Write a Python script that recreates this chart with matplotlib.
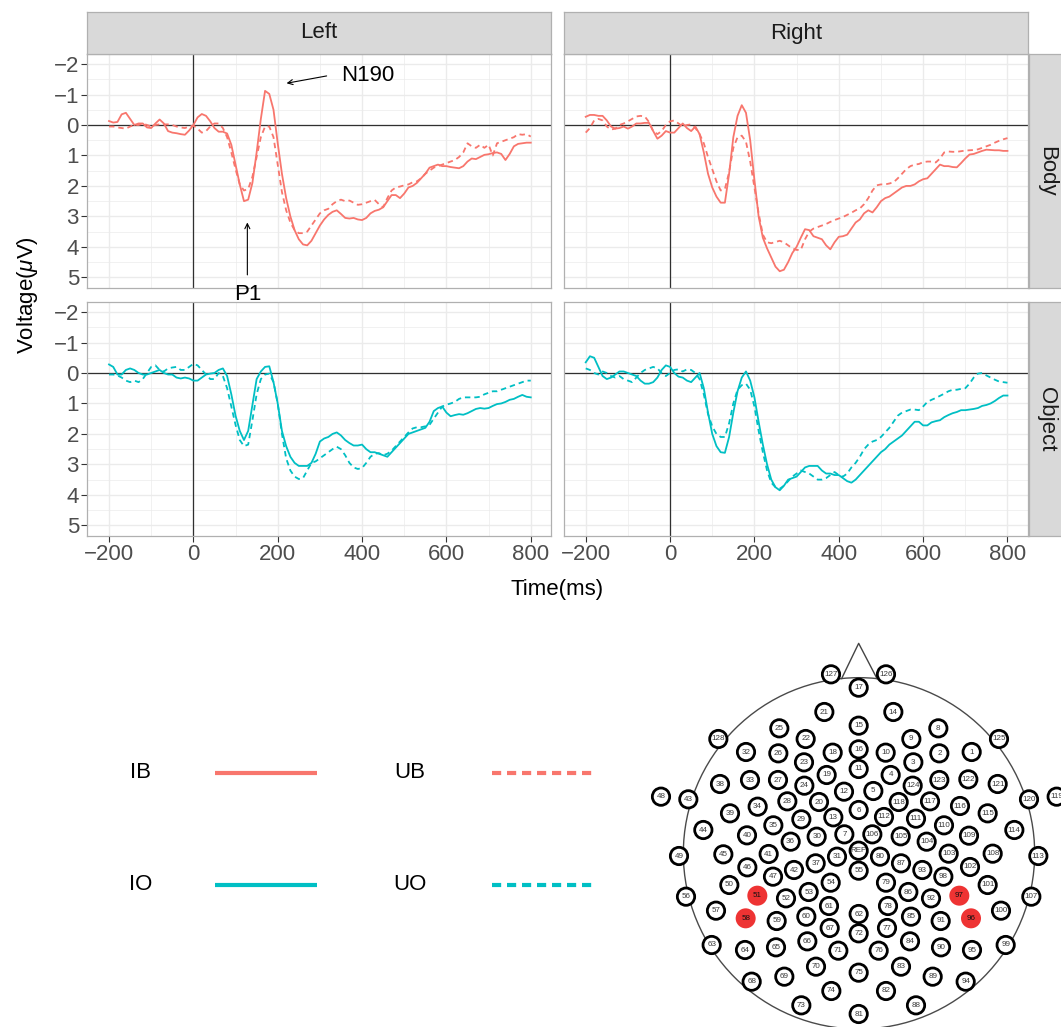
import numpy as np
import matplotlib
matplotlib.use("Agg")
import matplotlib.pyplot as plt
from matplotlib.patches import Circle

plt.rcParams['font.family'] = ['Liberation Sans', 'DejaVu Sans']
plt.rcParams['mathtext.fontset'] = 'custom'
plt.rcParams['mathtext.rm'] = 'Liberation Sans'
plt.rcParams['mathtext.it'] = 'Liberation Sans:italic'

# ---------------------------------------------------------------- data
TIME_MS = np.arange(-200, 801, 10)

IB_LEFT = [
    -0.13, -0.08, -0.10, -0.35, -0.40, -0.20, 0.00, -0.05, -0.05, 0.08,
    0.10, -0.05, -0.18, -0.05, 0.20, 0.25, 0.27, 0.30, 0.32, 0.18,
    0.00, -0.25, -0.36, -0.30, -0.12, 0.10, 0.22, 0.22, 0.28, 0.65,
    1.30, 1.95, 2.50, 2.45, 1.90, 0.90, -0.20, -1.12, -1.02, -0.50,
    0.60, 1.60, 2.40, 3.00, 3.45, 3.75, 3.92, 3.95, 3.80, 3.55,
    3.30, 3.10, 2.95, 2.85, 2.80, 2.92, 3.05, 3.07, 3.05, 3.10,
    3.12, 3.05, 2.90, 2.82, 2.78, 2.70, 2.50, 2.30, 2.30, 2.40,
    2.25, 2.05, 2.00, 1.90, 1.75, 1.60, 1.40, 1.35, 1.30, 1.35,
    1.35, 1.38, 1.40, 1.42, 1.35, 1.20, 1.10, 1.12, 1.05, 0.98,
    0.96, 0.92, 0.90, 0.95, 1.15, 0.95, 0.70, 0.62, 0.60, 0.58,
    0.58]
UB_LEFT = [
    0.05, 0.05, 0.08, 0.10, 0.12, 0.05, 0.00, 0.00, -0.05, 0.00,
    0.05, 0.00, -0.02, -0.02, -0.02, 0.00, 0.05, 0.08, 0.10, 0.05,
    0.02, 0.12, 0.25, 0.20, 0.05, -0.05, -0.05, 0.10, 0.40, 0.90,
    1.45, 1.95, 2.15, 2.10, 1.70, 1.05, 0.40, 0.05, 0.05, 0.40,
    1.30, 2.20, 2.80, 3.20, 3.45, 3.55, 3.55, 3.50, 3.30, 3.10,
    2.90, 2.80, 2.75, 2.60, 2.50, 2.45, 2.50, 2.48, 2.55, 2.62,
    2.60, 2.55, 2.50, 2.46, 2.60, 2.70, 2.40, 2.15, 2.05, 2.02,
    1.98, 1.95, 1.88, 1.85, 1.75, 1.60, 1.50, 1.40, 1.35, 1.30,
    1.25, 1.20, 1.15, 1.05, 0.90, 0.60, 0.70, 0.75, 0.65, 0.75,
    0.65, 1.00, 0.60, 0.55, 0.50, 0.45, 0.40, 0.30, 0.32, 0.30,
    0.38]
IB_RIGHT = [
    -0.27, -0.33, -0.33, -0.30, -0.30, -0.15, 0.05, 0.12, 0.10, 0.05,
    0.12, 0.05, -0.05, -0.05, -0.07, -0.07, 0.20, 0.45, 0.35, 0.20,
    0.25, 0.25, 0.10, -0.05, 0.10, 0.20, 0.05, 0.30, 0.90, 1.60,
    2.05, 2.35, 2.55, 2.55, 1.60, 0.40, -0.30, -0.65, -0.40, 0.50,
    1.80, 3.00, 3.70, 4.05, 4.35, 4.65, 4.80, 4.75, 4.50, 4.20,
    4.00, 3.70, 3.42, 3.45, 3.65, 3.70, 3.75, 3.95, 4.08, 3.85,
    3.67, 3.65, 3.60, 3.40, 3.20, 3.10, 2.90, 2.80, 2.87, 2.70,
    2.50, 2.40, 2.35, 2.25, 2.15, 2.05, 2.00, 2.00, 1.95, 1.85,
    1.78, 1.75, 1.60, 1.45, 1.30, 1.35, 1.35, 1.38, 1.39, 1.25,
    1.10, 0.97, 0.95, 0.90, 0.85, 0.81, 0.82, 0.83, 0.83, 0.85,
    0.85]
UB_RIGHT = [
    0.25, 0.10, -0.15, -0.20, -0.15, 0.05, 0.15, 0.12, 0.00, -0.05,
    -0.12, -0.20, -0.28, -0.30, -0.28, -0.10, 0.20, 0.30, 0.20, 0.00,
    -0.12, -0.15, -0.05, 0.05, 0.00, -0.02, 0.10, 0.30, 0.60, 1.05,
    1.45, 1.85, 2.15, 2.10, 1.55, 0.75, 0.40, 0.35, 0.55, 1.20,
    2.05, 2.90, 3.60, 3.85, 3.88, 3.84, 3.80, 3.85, 3.95, 4.05,
    4.10, 4.10, 3.75, 3.50, 3.40, 3.35, 3.30, 3.25, 3.18, 3.12,
    3.07, 3.02, 2.95, 2.88, 2.80, 2.74, 2.60, 2.40, 2.15, 1.98,
    1.95, 1.95, 1.92, 1.88, 1.75, 1.60, 1.45, 1.35, 1.30, 1.28,
    1.22, 1.20, 1.20, 1.23, 1.10, 0.90, 0.87, 0.88, 0.88, 0.86,
    0.84, 0.83, 0.82, 0.80, 0.75, 0.70, 0.65, 0.58, 0.52, 0.47,
    0.43]
IO_LEFT = [
    -0.28, -0.20, 0.05, 0.05, -0.10, -0.15, -0.10, 0.00, 0.05, 0.05,
    0.00, -0.05, -0.10, 0.00, 0.05, 0.05, 0.15, 0.18, 0.15, 0.18,
    0.25, 0.25, 0.15, 0.05, 0.02, 0.00, -0.10, -0.15, 0.10, 0.70,
    1.40, 1.90, 2.20, 1.90, 1.05, 0.20, -0.05, -0.20, -0.22, 0.30,
    1.00, 1.90, 2.40, 2.75, 2.95, 3.05, 3.05, 3.05, 2.95, 2.65,
    2.25, 2.15, 2.10, 2.00, 1.95, 2.05, 2.20, 2.30, 2.38, 2.38,
    2.35, 2.50, 2.60, 2.60, 2.65, 2.70, 2.75, 2.60, 2.45, 2.30,
    2.15, 2.00, 1.95, 1.90, 1.85, 1.80, 1.60, 1.25, 1.15, 1.10,
    1.30, 1.42, 1.38, 1.35, 1.37, 1.32, 1.25, 1.18, 1.15, 1.17,
    1.15, 1.08, 1.02, 1.00, 0.95, 0.88, 0.85, 0.78, 0.72, 0.78,
    0.80]
UO_LEFT = [
    0.05, 0.05, 0.08, 0.15, 0.25, 0.30, 0.25, 0.30, 0.20, 0.00,
    -0.20, -0.25, -0.10, -0.05, -0.15, -0.18, -0.20, -0.10, -0.10, -0.20,
    -0.30, -0.25, -0.10, 0.05, 0.20, 0.20, 0.00, 0.10, 0.50, 1.10,
    1.70, 2.20, 2.40, 2.35, 1.55, 0.70, 0.20, 0.05, 0.02, 0.30,
    1.00, 2.00, 2.80, 3.20, 3.40, 3.48, 3.45, 3.20, 2.95, 2.90,
    2.80, 2.70, 2.60, 2.50, 2.42, 2.50, 2.70, 2.95, 3.10, 3.15,
    3.12, 2.95, 2.75, 2.65, 2.63, 2.70, 2.65, 2.55, 2.40, 2.25,
    2.10, 1.95, 1.82, 1.78, 1.78, 1.75, 1.70, 1.50, 1.30, 1.10,
    1.04, 1.00, 0.95, 0.85, 0.80, 0.80, 0.80, 0.80, 0.78, 0.70,
    0.65, 0.60, 0.60, 0.55, 0.50, 0.45, 0.40, 0.35, 0.30, 0.25,
    0.25]
IO_RIGHT = [
    -0.35, -0.55, -0.50, -0.20, 0.10, 0.20, 0.15, 0.05, -0.05, -0.05,
    0.00, 0.05, 0.10, 0.25, 0.35, 0.35, 0.30, 0.15, -0.10, -0.25,
    -0.20, 0.00, 0.12, 0.15, 0.25, 0.30, 0.15, 0.00, 0.50, 1.30,
    2.00, 2.40, 2.60, 2.62, 2.10, 1.30, 0.60, 0.15, -0.05, 0.25,
    0.80, 1.60, 2.35, 3.00, 3.50, 3.75, 3.85, 3.70, 3.50, 3.45,
    3.40, 3.25, 3.10, 3.05, 3.05, 3.05, 3.20, 3.30, 3.30, 3.35,
    3.35, 3.45, 3.55, 3.60, 3.50, 3.35, 3.20, 3.05, 2.90, 2.75,
    2.60, 2.50, 2.35, 2.25, 2.15, 2.05, 1.90, 1.75, 1.60, 1.60,
    1.72, 1.72, 1.62, 1.58, 1.55, 1.45, 1.38, 1.32, 1.28, 1.22,
    1.22, 1.20, 1.18, 1.15, 1.08, 1.05, 1.00, 0.92, 0.82, 0.74,
    0.74]
UO_RIGHT = [
    -0.15, -0.10, 0.00, 0.05, -0.05, 0.00, 0.10, 0.15, 0.10, 0.20,
    0.25, 0.30, 0.15, 0.00, -0.10, -0.15, -0.20, -0.15, 0.00, 0.10,
    0.00, -0.10, -0.12, -0.05, -0.12, -0.10, 0.00, 0.20, 0.70, 1.35,
    1.75, 2.00, 2.10, 2.10, 1.65, 1.00, 0.55, 0.40, 0.35, 0.55,
    1.10, 1.90, 2.60, 3.20, 3.60, 3.75, 3.80, 3.70, 3.55, 3.40,
    3.30, 3.20, 3.25, 3.30, 3.40, 3.50, 3.50, 3.45, 3.35, 3.25,
    3.35, 3.40, 3.30, 3.10, 2.95, 2.75, 2.50, 2.35, 2.25, 2.20,
    2.10, 1.95, 1.80, 1.60, 1.40, 1.30, 1.25, 1.20, 1.20, 1.22,
    1.10, 0.95, 0.88, 0.82, 0.75, 0.68, 0.60, 0.55, 0.55, 0.52,
    0.50, 0.35, 0.15, 0.02, 0.00, 0.08, 0.15, 0.22, 0.28, 0.30,
    0.32]

HEMISPHERES = ["Left", "Right"]
CATEGORIES = ["Body", "Object"]
SERIES = {
    ("Body", "Left"): (IB_LEFT, UB_LEFT),
    ("Body", "Right"): (IB_RIGHT, UB_RIGHT),
    ("Object", "Left"): (IO_LEFT, UO_LEFT),
    ("Object", "Right"): (IO_RIGHT, UO_RIGHT),
}
X_TICKS = [-200, 0, 200, 400, 600, 800]
Y_TICKS = [-2, -1, 0, 1, 2, 3, 4, 5]

LEGEND_LABELS = [["IB", "UB"], ["IO", "UO"]]

# 128-channel sensor net layout (x right, y down), with the reference electrode
ELEC_LABELS = [
    "127", "126", "17", "21", "14", "15", "25", "8", "128", "22", "9", "125",
    "32", "26", "18", "16", "10", "2", "1", "23", "3", "11", "19", "4",
    "38", "33", "27", "24", "124", "123", "122", "121", "48", "43", "12", "5",
    "28", "20", "118", "117", "116", "120", "119", "39", "34", "6", "29", "13",
    "112", "111", "115", "110", "44", "35", "114", "40", "30", "7", "106", "105",
    "104", "109", "36", "45", "49", "41", "31", "REF", "80", "87", "103", "108",
    "113", "46", "42", "37", "55", "93", "102", "47", "98", "54", "79", "50",
    "101", "56", "51", "52", "53", "86", "92", "97", "107", "57", "61", "78",
    "100", "58", "59", "60", "62", "85", "91", "96", "67", "72", "77", "63",
    "64", "65", "66", "71", "76", "84", "90", "95", "99", "70", "83", "68",
    "69", "75", "89", "94", "74", "82", "73", "88", "81"]
ELEC_X = [
    573, 738, 656, 553, 760, 656, 418, 895, 235, 497, 814, 1077,
    318, 415, 578, 656, 737, 898, 995, 492, 820, 656, 560, 752,
    240, 330, 414, 493, 818, 898, 985, 1073, 63, 145, 612, 700,
    442, 537, 776, 870, 960, 1167, 1250, 270, 353, 656, 484, 580,
    732, 828, 1043, 912, 190, 400, 1123, 321, 530, 613, 697, 782,
    860, 987, 452, 250, 117, 386, 591, 656, 720, 783, 926, 1058,
    1195, 322, 462, 527, 656, 847, 990, 399, 910, 572, 738, 268,
    1043, 138, 352, 438, 506, 805, 873, 958, 1174, 228, 567, 744,
    1083, 317, 410, 499, 656, 813, 902, 993, 569, 656, 741, 215,
    315, 408, 502, 595, 716, 810, 903, 996, 1097, 528, 783, 335,
    433, 656, 878, 977, 574, 738, 484, 828, 656]
ELEC_Y = [
    103, 103, 143, 216, 216, 257, 265, 265, 297, 297, 297, 297,
    336, 340, 338, 328, 338, 340, 336, 367, 367, 387, 405, 405,
    432, 420, 420, 437, 437, 420, 418, 432, 470, 478, 455, 453,
    484, 486, 486, 484, 498, 478, 470, 520, 500, 510, 538, 532,
    531, 536, 520, 556, 570, 556, 570, 586, 590, 583, 583, 589,
    605, 587, 605, 643, 648, 642, 650, 632, 650, 670, 641, 641,
    648, 682, 690, 670, 692, 690, 681, 710, 710, 728, 728, 735,
    735, 770, 767, 775, 756, 756, 775, 767, 770, 812, 798, 798,
    812, 835, 843, 830, 822, 830, 843, 835, 864, 880, 864, 915,
    930, 922, 904, 932, 932, 904, 922, 930, 915, 980, 980, 1025,
    1010, 998, 1010, 1025, 1053, 1053, 1096, 1096, 1122]
SELECTED = ["51", "58", "96", "97"]
HEAD_CENTER = (657, 640)
HEAD_RADIUS = 527
NOSE_TIP = (656, 10)
NOSE_BASE_X = (605, 711)

# ---------------------------------------------------------------- style
W, H = 1061, 1027
COL = {"Body": "#F8766D", "Object": "#00BFC4"}
GRID = "#EBEBEB"
BORDER = "#B0B0B0"
STRIP = "#D9D9D9"
TICK_TXT = "#4D4D4D"

fig = plt.figure(figsize=(W / 100, H / 100), dpi=100)


def px_axes(x0, y0, x1, y1):
    return fig.add_axes([x0 / W, 1 - y1 / H, (x1 - x0) / W, (y1 - y0) / H])


COLS_X = {"Left": (87.3, 551.0), "Right": (564.0, 1027.7)}
ROWS_Y = {"Body": (54.0, 288.0), "Object": (302.0, 536.0)}

panels = {}
for cat in CATEGORIES:
    for hemi in HEMISPHERES:
        x0, x1 = COLS_X[hemi]
        y0, y1 = ROWS_Y[cat]
        ax = px_axes(x0, y0, x1, y1)
        panels[(cat, hemi)] = ax
        solid, dashed = SERIES[(cat, hemi)]
        ax.set_xlim(-251.5, 848)
        ax.set_ylim(5.35, -2.33)
        ax.set_xticks(X_TICKS)
        ax.set_xticks([-100, 100, 300, 500, 700], minor=True)
        ax.set_yticks(Y_TICKS)
        ax.set_yticks(np.arange(-1.5, 5.0, 1.0), minor=True)
        ax.grid(which="major", color=GRID, lw=1.0, zorder=0)
        ax.grid(which="minor", color=GRID, lw=0.5, zorder=0)
        ax.set_axisbelow(True)
        ax.axhline(0, color="#303030", lw=0.9, zorder=1)
        ax.axvline(0, color="#303030", lw=0.9, zorder=1)
        ax.plot(TIME_MS, solid, color=COL[cat], lw=1.3, zorder=3,
                solid_joinstyle="round")
        ax.plot(TIME_MS, dashed, color=COL[cat], lw=1.3, zorder=3,
                linestyle=(0, (3.0, 2.2)))
        for sp in ax.spines.values():
            sp.set_color(BORDER)
            sp.set_linewidth(0.9)
        ax.tick_params(which="minor", length=0)
        ax.tick_params(which="major", length=4, width=0.8, color="#333333",
                       labelsize=16, labelcolor=TICK_TXT, pad=2)
        ax.tick_params(axis="x", bottom=(cat == "Object"),
                       labelbottom=(cat == "Object"))
        ax.tick_params(axis="y", left=(hemi == "Left"),
                       labelleft=(hemi == "Left"))

# facet strips
for hemi in HEMISPHERES:
    x0, x1 = COLS_X[hemi]
    s = px_axes(x0, 12, x1, 54)
    s.set_facecolor(STRIP)
    s.set_xticks([]); s.set_yticks([])
    for sp in s.spines.values():
        sp.set_color(BORDER); sp.set_linewidth(0.9)
    s.text(0.5, 0.5, hemi, ha="center", va="center", size=16,
           color="#1A1A1A", transform=s.transAxes)
for cat in CATEGORIES:
    y0, y1 = ROWS_Y[cat]
    s = px_axes(1029, y0, 1064, y1)
    s.set_facecolor(STRIP)
    s.set_xticks([]); s.set_yticks([])
    for sp in s.spines.values():
        sp.set_color(BORDER); sp.set_linewidth(0.9)
    s.text(0.5, 0.5, cat, ha="center", va="center", size=16,
           color="#1A1A1A", rotation=-90, transform=s.transAxes)

fig.text(557.5 / W, 1 - 590 / H, "Time(ms)", ha="center", va="center", size=16)
fig.text(28 / W, 1 - 295 / H, r"Voltage($\mu$V)", ha="center", va="center",
         size=16, rotation=90)

# component labels
axb = panels[("Body", "Left")]
axb.annotate("", xy=(221, -1.37), xytext=(316, -1.61),
             arrowprops=dict(arrowstyle="->", color="black", lw=0.8,
                             shrinkA=0, shrinkB=0, mutation_scale=9))
axb.text(413, -1.62, "N190", ha="center", va="center", size=16)
axb.annotate("", xy=(128, 3.2), xytext=(128, 4.92),
             arrowprops=dict(arrowstyle="->", color="black", lw=0.8,
                             shrinkA=0, shrinkB=0, mutation_scale=9))
axb.text(128, 5.55, "P1", ha="center", va="center", size=16, clip_on=False)

# object row drawn after body row so its panel hides the lower part of "P1"
for hemi in HEMISPHERES:
    panels[("Object", hemi)].set_zorder(2)

# legend
lg = px_axes(0, 600, 640, 1027)
lg.set_xlim(0, 640); lg.set_ylim(1027, 600)
lg.axis("off")
for r, (row_labels, cat) in enumerate(zip(LEGEND_LABELS, CATEGORIES)):
    yy = 773 + 112 * r
    for c, lab in enumerate(row_labels):
        tx = 141 + 269 * c
        lx0 = 215 + 277 * c
        lg.text(tx, yy, lab, ha="center", va="center", size=16)
        ls = "-" if c == 0 else (0, (2.2, 1.4))
        lg.plot([lx0, lx0 + 102], [yy, yy], color=COL[cat], lw=3.0,
                linestyle=ls, solid_capstyle="butt", dash_capstyle="butt")

# electrode map
mp = px_axes(640, 640, 1061, 1027)
mp.set_xlim(0, 1263); mp.set_ylim(1161, 0)
mp.set_aspect("equal")
mp.axis("off")
cx, cy = HEAD_CENTER
mp.add_patch(Circle(HEAD_CENTER, HEAD_RADIUS, fill=False, ec="#4A4A4A",
                    lw=1.0, zorder=1))
nose_y = [cy - np.sqrt(HEAD_RADIUS ** 2 - (bx - cx) ** 2) for bx in NOSE_BASE_X]
mp.plot([NOSE_BASE_X[0], NOSE_TIP[0], NOSE_BASE_X[1]],
        [nose_y[0], NOSE_TIP[1], nose_y[1]], color="#444444", lw=1.0, zorder=1)
for lab, ex, ey in zip(ELEC_LABELS, ELEC_X, ELEC_Y):
    if lab in SELECTED:
        mp.add_patch(Circle((ex, ey), 30, fc="#EE3333", ec="none", zorder=2))
        tc = "#111111"
    else:
        mp.add_patch(Circle((ex, ey), 26, fc="white", ec="black", lw=2.0,
                            zorder=2))
        tc = "#3A3A3A"
    mp.text(ex, ey, lab, ha="center", va="center", size=5.8, color=tc,
            zorder=3)

fig.savefig("out.png", dpi=100)
